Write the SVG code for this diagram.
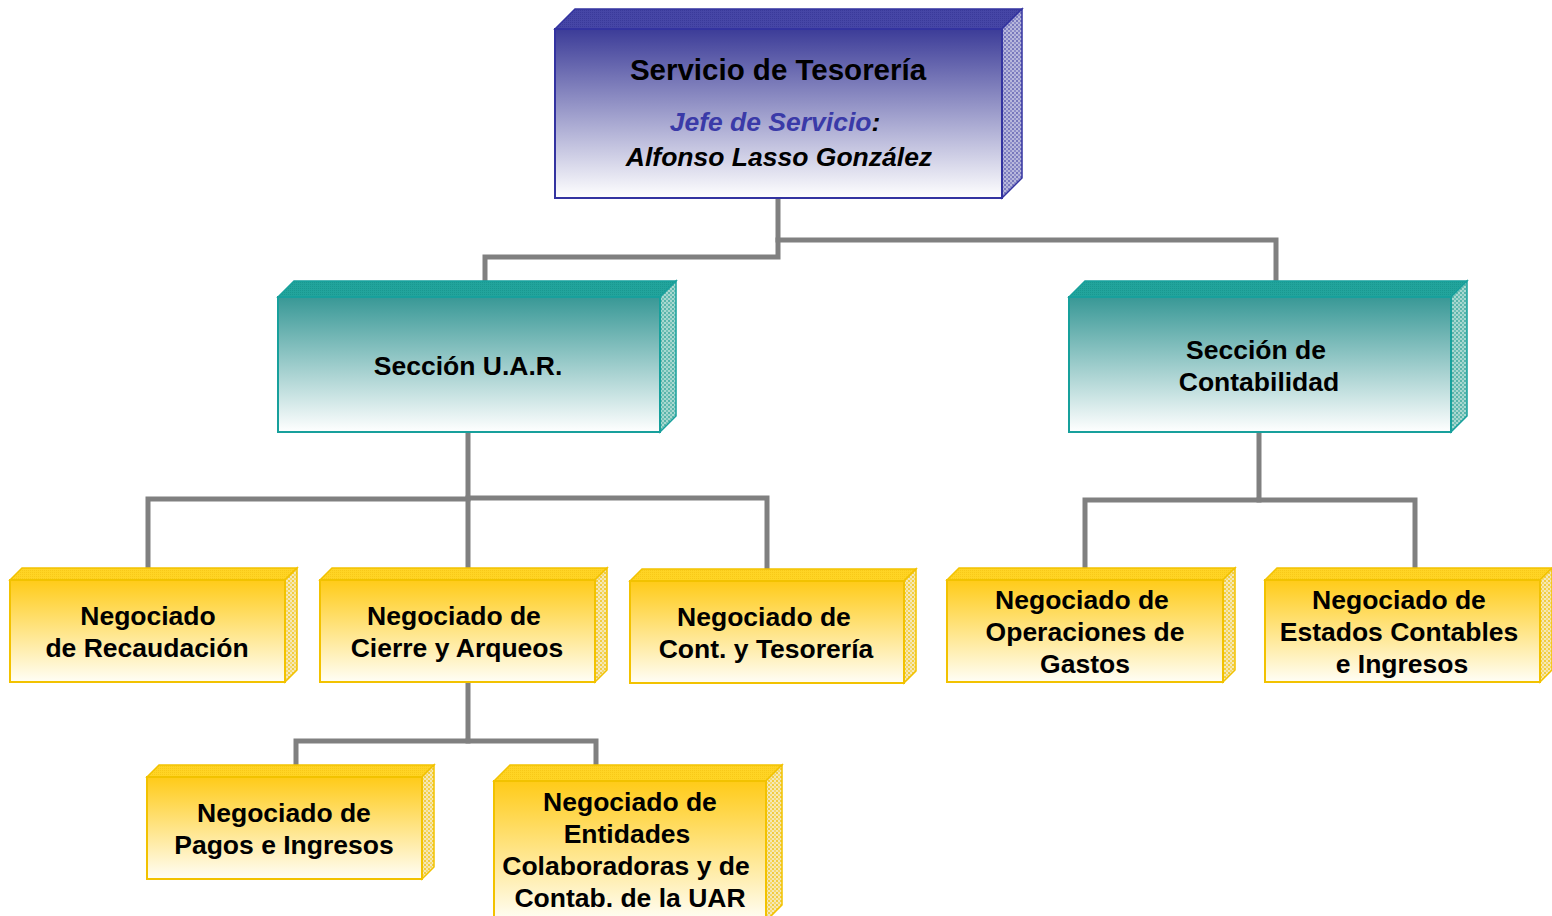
<svg xmlns="http://www.w3.org/2000/svg" width="1552" height="916" viewBox="0 0 1552 916">
<style>
text{font-family:"Liberation Sans",Arial,sans-serif;font-weight:bold;font-size:26.5px;fill:#000;text-anchor:middle}
.title{font-size:29.5px}
.it{font-style:italic}
.blue{fill:#3a3aa8}
.conn{fill:none;stroke:#808080;stroke-width:5;stroke-linejoin:miter;stroke-linecap:square}
.bf{fill:url(#gB);stroke:#3333a0;stroke-width:2}
.bt{fill:url(#pBt);stroke:#3333a0;stroke-width:1.5}
.bs{fill:url(#pBs);stroke:#3333a0;stroke-width:1.5}
.tf{fill:url(#gT);stroke:#17a09c;stroke-width:2}
.tt{fill:url(#pTt);stroke:#17a09c;stroke-width:1.5}
.ts{fill:url(#pTs);stroke:#17a09c;stroke-width:1.5}
.yf{fill:url(#gY);stroke:#f2c200;stroke-width:2}
.yt{fill:url(#pYt);stroke:#f2c200;stroke-width:1.5}
.ys{fill:url(#pYs);stroke:#f2c200;stroke-width:1.5}
</style>
<defs>
<linearGradient id="gB" x1="0" y1="0" x2="0" y2="1"><stop offset="0" stop-color="#3c3c98"/><stop offset="1" stop-color="#ffffff"/></linearGradient>
<linearGradient id="gT" x1="0" y1="0" x2="0" y2="1"><stop offset="0" stop-color="#389896"/><stop offset="1" stop-color="#ffffff"/></linearGradient>
<linearGradient id="gY" x1="0" y1="0" x2="0" y2="1"><stop offset="0" stop-color="#ffcb18"/><stop offset="1" stop-color="#fffef6"/></linearGradient>
<pattern id="pBt" width="2" height="2" patternUnits="userSpaceOnUse"><rect width="2" height="2" fill="#4646a6"/><rect width="1" height="1" fill="#3a3a9a"/></pattern>
<pattern id="pBs" width="4" height="4" patternUnits="userSpaceOnUse"><rect width="4" height="4" fill="#b8b8dc"/><rect width="2" height="2" fill="#7878bc"/><rect x="2" y="2" width="2" height="2" fill="#8c8cc8"/></pattern>
<pattern id="pTt" width="2" height="2" patternUnits="userSpaceOnUse"><rect width="2" height="2" fill="#22a49c"/><rect width="1" height="1" fill="#1a9890"/></pattern>
<pattern id="pTs" width="4" height="4" patternUnits="userSpaceOnUse"><rect width="4" height="4" fill="#a8d8d0"/><rect width="2" height="2" fill="#58b4aa"/><rect x="2" y="2" width="2" height="2" fill="#70c0b6"/></pattern>
<pattern id="pYt" width="2" height="2" patternUnits="userSpaceOnUse"><rect width="2" height="2" fill="#ffd424"/><rect width="1" height="1" fill="#f8c818"/></pattern>
<pattern id="pYs" width="4" height="4" patternUnits="userSpaceOnUse"><rect width="4" height="4" fill="#f4e8b8"/><rect width="2" height="2" fill="#f2cc40"/><rect x="2" y="2" width="2" height="2" fill="#f6d868"/></pattern>
</defs>

<g id="connectors">
<path class="conn" d="M778,198 V257 H485 V281"/>
<path class="conn" d="M778,240 H1276 V281"/>
<path class="conn" d="M468,432 V568"/>
<path class="conn" d="M468,499 H148 V568"/>
<path class="conn" d="M468,498 H767 V569"/>
<path class="conn" d="M1259,432 V500 H1085 V568"/>
<path class="conn" d="M1259,500 H1415 V568"/>
<path class="conn" d="M468,682 V741 H296 V765"/>
<path class="conn" d="M468,741 H596 V765"/>
</g>

<g id="servicio">
<polygon class="bt" points="555,29 575,9 1022,9 1002,29"/>
<polygon class="bs" points="1002,29 1022,9 1022,178 1002,198"/>
<rect class="bf" x="555" y="29" width="447" height="169"/>
<text class="title" x="778" y="80">Servicio de Tesorería</text>
<text class="it" x="775" y="131"><tspan class="blue">Jefe de Servicio</tspan>:</text>
<text class="it" x="779" y="166">Alfonso Lasso González</text>
</g>

<g id="seccion-uar">
<polygon class="tt" points="278,297 294,281 676,281 660,297"/>
<polygon class="ts" points="660,297 676,281 676,416 660,432"/>
<rect class="tf" x="278" y="297" width="382" height="135"/>
<text x="468" y="375">Sección U.A.R.</text>
</g>

<g id="seccion-contabilidad">
<polygon class="tt" points="1069,297 1085,281 1467,281 1451,297"/>
<polygon class="ts" points="1451,297 1467,281 1467,416 1451,432"/>
<rect class="tf" x="1069" y="297" width="382" height="135"/>
<text x="1256" y="359">Sección de</text>
<text x="1259" y="391">Contabilidad</text>
</g>

<g id="recaudacion">
<polygon class="yt" points="10,580 22,568 297,568 285,580"/>
<polygon class="ys" points="285,580 297,568 297,670 285,682"/>
<rect class="yf" x="10" y="580" width="275" height="102"/>
<text x="148" y="625">Negociado</text>
<text x="147" y="657">de Recaudación</text>
</g>

<g id="cierre">
<polygon class="yt" points="320,580 332,568 607,568 595,580"/>
<polygon class="ys" points="595,580 607,568 607,670 595,682"/>
<rect class="yf" x="320" y="580" width="275" height="102"/>
<text x="454" y="625">Negociado de</text>
<text x="457" y="657">Cierre y Arqueos</text>
</g>

<g id="cont-tesoreria">
<polygon class="yt" points="630,581 642,569 916,569 904,581"/>
<polygon class="ys" points="904,581 916,569 916,671 904,683"/>
<rect class="yf" x="630" y="581" width="274" height="102"/>
<text x="764" y="626">Negociado de</text>
<text x="766" y="658">Cont. y Tesorería</text>
</g>

<g id="operaciones">
<polygon class="yt" points="947,580 959,568 1235,568 1223,580"/>
<polygon class="ys" points="1223,580 1235,568 1235,670 1223,682"/>
<rect class="yf" x="947" y="580" width="276" height="102"/>
<text x="1082" y="609">Negociado de</text>
<text x="1085" y="641">Operaciones de</text>
<text x="1085" y="673">Gastos</text>
</g>

<g id="estados">
<polygon class="yt" points="1265,580 1277,568 1552,568 1540,580"/>
<polygon class="ys" points="1540,580 1552,568 1552,670 1540,682"/>
<rect class="yf" x="1265" y="580" width="275" height="102"/>
<text x="1399" y="609">Negociado de</text>
<text x="1399" y="641">Estados Contables</text>
<text x="1402" y="673">e Ingresos</text>
</g>

<g id="pagos">
<polygon class="yt" points="147,777 159,765 434,765 422,777"/>
<polygon class="ys" points="422,777 434,765 434,867 422,879"/>
<rect class="yf" x="147" y="777" width="275" height="102"/>
<text x="284" y="822">Negociado de</text>
<text x="284" y="854">Pagos e Ingresos</text>
</g>

<g id="entidades">
<polygon class="yt" points="494,781 510,765 782,765 766,781"/>
<polygon class="ys" points="766,781 782,765 782,905 766,921"/>
<rect class="yf" x="494" y="781" width="272" height="140"/>
<text x="630" y="811">Negociado de</text>
<text x="627" y="843">Entidades</text>
<text x="626" y="875">Colaboradoras y de</text>
<text x="630" y="907">Contab. de la UAR</text>
</g>
</svg>
